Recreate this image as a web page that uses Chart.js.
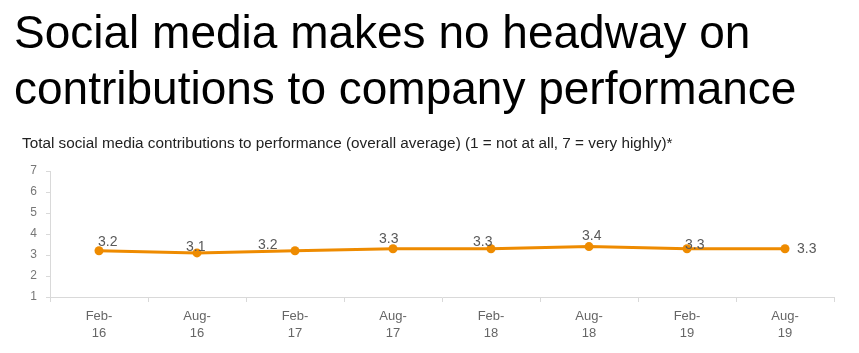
<!DOCTYPE html>
<html><head><meta charset="utf-8">
<script src="https://cdn.jsdelivr.net/npm/chart.js@4/dist/chart.umd.min.js"></script>
<style>html,body{margin:0;padding:0;background:#fff;}#wrap{width:859px;height:353px;position:relative;}</style>
</head><body><div id="wrap"><canvas id="c" width="859" height="353"></canvas></div>
<script>
const titleLines = ["Social media makes no headway on", "contributions to company performance"];
const subtitleText = "Total social media contributions to performance (overall average) (1 = not at all, 7 = very highly)*";
const categories = [["Feb-","16"],["Aug-","16"],["Feb-","17"],["Aug-","17"],["Feb-","18"],["Aug-","18"],["Feb-","19"],["Aug-","19"]];
const values = [3.2, 3.1, 3.2, 3.3, 3.3, 3.4, 3.3, 3.3];
const yTicks = [1, 2, 3, 4, 5, 6, 7];

// label placement offsets (style only), relative to each point
const labelOffsets = [[-1,-5],[-11,-2],[-37,-2],[-14,-6],[-18,-3],[-7,-7],[-2,0],[12,4]];

const FONT = "'Liberation Sans', Arial, Helvetica, sans-serif";

const headerPlugin = {
  id: 'header',
  afterDraw(chart) {
    const ctx = chart.ctx;
    ctx.save();
    ctx.fillStyle = '#000';
    ctx.textAlign = 'left';
    ctx.textBaseline = 'alphabetic';
    ctx.font = '46px ' + FONT;
    ctx.fillText(titleLines[0], 14, 48);
    ctx.fillText(titleLines[1], 14, 104);
    ctx.fillStyle = '#222';
    ctx.font = '15.3px ' + FONT;
    ctx.fillText(subtitleText, 22, 148);
    ctx.restore();
  }
};

const labelPlugin = {
  id: 'pointLabels',
  afterDatasetsDraw(chart) {
    const ctx = chart.ctx;
    const meta = chart.getDatasetMeta(0);
    ctx.save();
    ctx.fillStyle = '#595959';
    ctx.font = '14px ' + FONT;
    ctx.textAlign = 'left';
    ctx.textBaseline = 'alphabetic';
    meta.data.forEach((pt, i) => {
      const off = labelOffsets[i];
      ctx.fillText(values[i].toFixed(1), pt.x + off[0], pt.y + off[1]);
    });
    ctx.restore();
  }
};

new Chart(document.getElementById('c'), {
  type: 'line',
  data: {
    labels: categories,
    datasets: [{
      data: values,
      borderColor: '#EE8B00',
      backgroundColor: '#EE8B00',
      borderWidth: 3,
      pointRadius: 4.5,
      pointHoverRadius: 4.5,
      pointBackgroundColor: '#EE8B00',
      pointBorderWidth: 0,
      tension: 0
    }]
  },
  options: {
    responsive: false,
    animation: false,
    events: [],
    layout: { padding: { top: 171, left: 0, right: 25, bottom: 0 } },
    plugins: { legend: { display: false }, tooltip: { enabled: false }, title: { display: false } },
    scales: {
      x: {
        type: 'category',
        offset: true,
        grid: { offset: true, drawOnChartArea: false, drawTicks: true, tickLength: 5, color: '#d9d9d9' },
        border: { color: '#d9d9d9', width: 1 },
        ticks: { color: '#666', font: { family: FONT, size: 13, lineHeight: 1.3 }, padding: 6, maxRotation: 0, autoSkip: false },
        afterFit(s) { s.height = 56; }
      },
      y: {
        min: 1, max: 7,
        afterBuildTicks(s) { s.ticks = yTicks.map(v => ({ value: v })); },
        grid: { drawOnChartArea: false, drawTicks: true, tickLength: 4, color: '#d9d9d9' },
        border: { color: '#d9d9d9', width: 1 },
        ticks: { color: '#777', font: { family: FONT, size: 12 }, padding: 9 },
        afterFit(s) { s.width = 50; }
      }
    }
  },
  plugins: [headerPlugin, labelPlugin]
});
</script></body></html>
